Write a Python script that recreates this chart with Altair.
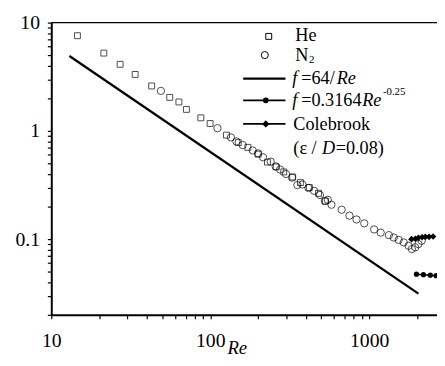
import altair as alt
import pandas as pd

# ---------------- data ----------------
he_re = [14.6, 21.4, 27.1, 33.7, 42.8, 55.6, 63.5, 70.8, 87.3, 99.8, 126.5, 150,
         172.5, 200, 229, 260, 290, 330, 369, 420, 480, 530]
he_f = [7.57, 5.23, 4.12, 3.32, 2.60, 2.04, 1.85, 1.58, 1.32, 1.17, 0.914, 0.78,
        0.705, 0.61, 0.515, 0.465, 0.418, 0.375, 0.333, 0.30, 0.265, 0.225]

n2_re = [48.9, 111, 135, 146, 160, 185, 200, 215, 240, 258, 275, 300, 327, 353,
         380, 415, 450, 490, 526, 549, 579, 671, 751, 832, 931, 1074, 1181, 1330,
         1428, 1533, 1648, 1770, 1855, 1946, 2041, 2139]
n2_f = [2.34, 1.06, 0.87, 0.80, 0.74, 0.66, 0.62, 0.57, 0.52, 0.47, 0.44, 0.40,
        0.37, 0.316, 0.32, 0.297, 0.28, 0.256, 0.225, 0.231, 0.208, 0.187, 0.165,
        0.152, 0.140, 0.123, 0.115, 0.109, 0.1036, 0.0985, 0.0933, 0.0869, 0.0811,
        0.0841, 0.0901, 0.0966]

lam_re = [13, 2040]          # f = 64/Re
lam_f = [4.92, 0.0314]

bla_re = [1982, 2193, 2423, 2637]   # f = 0.3164 Re^-0.25
bla_f = [0.0475, 0.0470, 0.0465, 0.0460]

col_re = [1845, 1950, 2040, 2150, 2256, 2380, 2523]   # Colebrook
col_f = [0.100, 0.101, 0.103, 0.104, 0.105, 0.105, 0.106]

x_ticks = [10, 20, 30, 40, 50, 60, 70, 80, 90, 100, 200, 300, 400, 500, 600, 700,
           800, 900, 1000, 2000]
y_ticks = [0.02, 0.03, 0.04, 0.05, 0.06, 0.07, 0.08, 0.09, 0.1, 0.2, 0.3, 0.4, 0.5,
           0.6, 0.7, 0.8, 0.9, 1, 2, 3, 4, 5, 6, 7, 8, 9, 10]

X_DOMAIN = [10, 2670]
Y_DOMAIN = [0.02, 10]
W, H = 392, 297
FONT = "Liberation Serif, Times New Roman, serif"
LFS = 18.5

# ---------------- scales / axes ----------------
xscale = alt.Scale(type="log", domain=X_DOMAIN, nice=False)
yscale = alt.Scale(type="log", domain=Y_DOMAIN, nice=False)
xaxis = alt.Axis(title=None, values=x_ticks, format="~g",
                 labelExpr="indexof([10,100,1000], datum.value) >= 0 ? datum.label : ''",
                 grid=False, tickSize=4, labelPadding=12,
                 labelFont=FONT, labelFontSize=20, labelColor="black",
                 labelFlush=False, labelOverlap=False)
yaxis = alt.Axis(title=None, values=y_ticks, format="~g",
                 labelExpr="indexof([0.1,1,10], datum.value) >= 0 ? datum.label : ''",
                 grid=False, tickSize=4, labelPadding=8,
                 labelFont=FONT, labelFontSize=20, labelColor="black",
                 labelFlush=False, labelOverlap=False)


def enc(chart):
    return chart.encode(
        x=alt.X("re:Q", scale=xscale, axis=xaxis),
        y=alt.Y("f:Q", scale=yscale, axis=yaxis),
    )


he_df = pd.DataFrame({"re": he_re, "f": he_f})
n2_df = pd.DataFrame({"re": n2_re, "f": n2_f})
lam_df = pd.DataFrame({"re": lam_re, "f": lam_f})
bla_df = pd.DataFrame({"re": bla_re, "f": bla_f})
col_df = pd.DataFrame({"re": col_re, "f": col_f})

he = enc(alt.Chart(he_df).mark_point(shape="square", size=36, color="black",
                                     filled=False, strokeWidth=1, clip=True))
n2 = enc(alt.Chart(n2_df).mark_point(shape="circle", size=55, color="black",
                                     filled=False, strokeWidth=1, clip=True))
lam = enc(alt.Chart(lam_df).mark_line(color="black", strokeWidth=2.3, clip=True))
bla_l = enc(alt.Chart(bla_df).mark_line(color="black", strokeWidth=1.5, clip=True))
bla_p = enc(alt.Chart(bla_df).mark_point(shape="circle", size=28, color="black",
                                         filled=True, opacity=1, clip=True))
col_l = enc(alt.Chart(col_df).mark_line(color="black", strokeWidth=1.5, clip=True))
col_p = enc(alt.Chart(col_df).mark_point(shape="diamond", size=45, color="black",
                                         filled=True, opacity=1, clip=True))

one = pd.DataFrame({"k": [0]})
top_border = alt.Chart(one).mark_rule(color="black", strokeWidth=1.5).encode(
    x=alt.value(0), x2=alt.value(W), y=alt.value(0))


# ---------------- custom legend / titles ----------------
def txt(s, x, y, size=LFS, style="normal", align="left", baseline="middle"):
    return alt.Chart(one).mark_text(align=align, baseline=baseline, font=FONT,
                                    fontSize=size, fontStyle=style,
                                    color="black").encode(
        x=alt.value(x), y=alt.value(y), text=alt.value(s))


def sym(shape, x, y, size, filled):
    return alt.Chart(one).mark_point(shape=shape, size=size, filled=filled,
                                     color="black", opacity=1,
                                     strokeWidth=1).encode(
        x=alt.value(x), y=alt.value(y))


def seg(y, w=1.8):
    return alt.Chart(one).mark_rule(color="black", strokeWidth=w).encode(
        x=alt.value(195), x2=alt.value(238), y=alt.value(y))


legend = [
    sym("square", 221, 14, 36, False), txt("He", 248, 13),
    sym("circle", 217, 33, 52, False), txt("N", 248, 33), txt("2", 262, 38, 11),
    seg(57, 2.2), txt("f", 245, 56, style="italic"), txt("=64/", 254, 56),
    txt("Re", 290, 56, style="italic"),
    seg(79), sym("circle", 218, 79, 34, True), txt("f", 245, 79, style="italic"),
    txt("=0.3164", 254, 79), txt("Re", 316, 79, style="italic"),
    txt("-0.25", 337, 71, 11),
    seg(103), sym("diamond", 218, 103, 55, True), txt("Colebrook", 246, 103),
    txt("(ε / ", 246, 128), txt("D", 275, 128, style="italic"),
    txt("=0.08)", 289, 128),
    txt("Re", 189, 337, 19, "italic", "center", "alphabetic"),
]

chart = alt.layer(lam, he, n2, bla_l, bla_p, col_l, col_p, top_border, *legend).properties(
    width=W, height=H,
    autosize=alt.AutoSizeParams(type="none"),
    padding={"left": 44, "top": 12, "right": 0, "bottom": 41},
    background="white",
).configure_view(stroke=None).configure_axis(
    domainColor="black", domainWidth=2, tickColor="black", tickWidth=1.2,
)

chart.save("out.html", embed_options={"renderer": "svg", "actions": False})
